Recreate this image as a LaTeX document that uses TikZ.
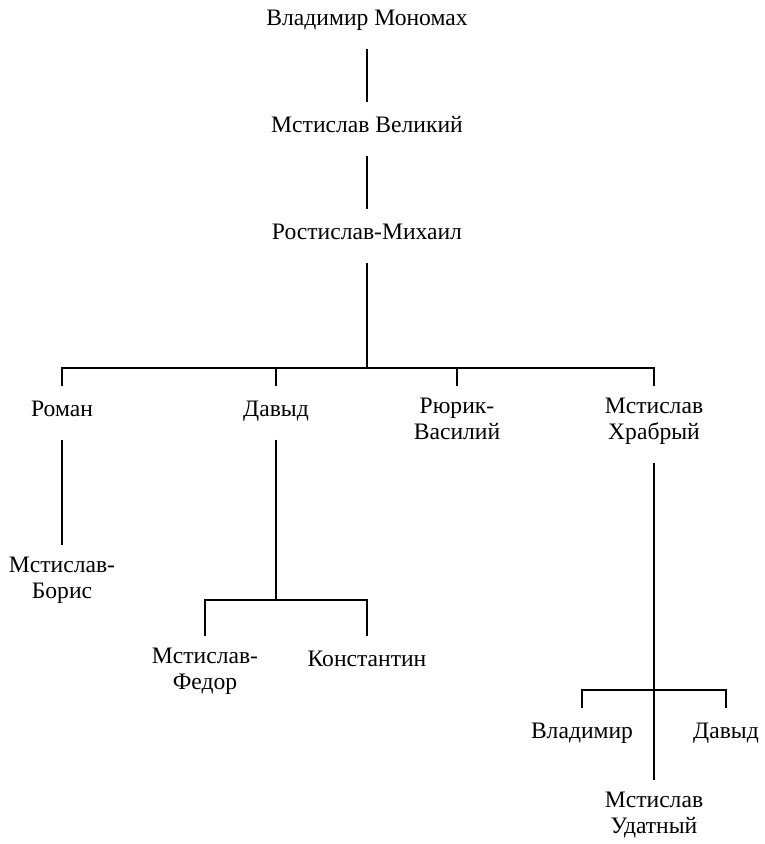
\documentclass[tikz,border=0pt]{standalone}
\usepackage{fontspec}
\setmainfont{Liberation Serif}
\tikzset{
  nm/.style={anchor=north,align=center,inner xsep=0pt,inner ysep=11pt,
    font=\fontsize{23.6}{26.5}\selectfont,
    execute at begin node=\strut,execute at end node=\strut},
  dn/.style={shorten <=4pt},
  every picture/.style={line width=1.2pt},
}
\begin{document}
\begin{tikzpicture}[x=1pt,y=1pt]
\useasboundingbox (0,0) rectangle (765,-844);
\node[nm] (vm) at (367,4.5){Владимир Мономах};
\node[nm] (mv) at (367,-102){Мстислав Великий};
\node[nm] (rm) at (367,-209){Ростислав-Михаил};
\node[nm] (rom) at (62,-386){Роман}; \node[nm] (dav) at (276,-386){Давыд};
\node[nm] (rur) at (457,-386){Рюрик-\\Василий}; \node[nm] (mh) at (654,-386){Мстислав\\Храбрый};
\node[nm] (mb) at (62,-545){Мстислав-\\Борис};
\node[nm] (mf) at (205,-636){Мстислав-\\Федор}; \node[nm] (kon) at (367,-636){Константин};
\node[nm] (vl) at (582,-708){Владимир}; \node[nm] (dv) at (726,-708){Давыд};
\node[nm] (mu) at (654,-780){Мстислав\\Удатный};
\coordinate (j0) at (367,-368); \coordinate (j1) at (276,-600); \coordinate (j2) at (654,-690);
% main line
\draw[dn] (vm) -- (mv); \draw[dn] (mv) -- (rm); \draw[dn] (rm.south) -- (j0);
\draw (rom.north) |- (j0) -| (mh.north);
\draw (dav.north) -- (dav.north |- j0); \draw (rur.north) -- (rur.north |- j0);
% sons
\draw[dn] (rom) -- (mb);
\draw[dn] (dav.south) -- (j1); \draw (mf.north) |- (j1) -| (kon.north);
\draw[dn] (mh.south) -- (mu.north); \draw (vl.north) |- (j2) -| (dv.north);
\end{tikzpicture}
\end{document}
